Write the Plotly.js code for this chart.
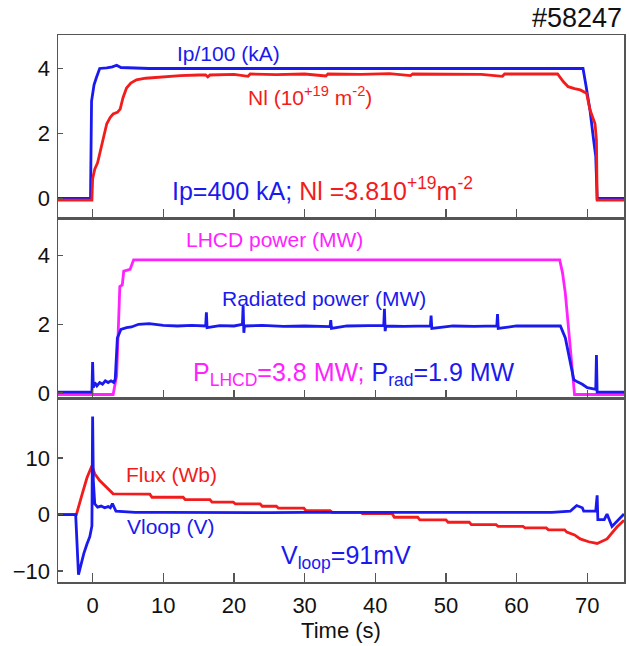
<!DOCTYPE html>
<html>
<head>
<meta charset="utf-8">
<script src="https://cdn.plot.ly/plotly-3.0.1.min.js"></script>
<style>html,body{margin:0;padding:0;background:#fff;}#chart{width:630px;height:646px;}</style>
</head>
<body>
<div id="chart"></div>
<script>
// ---- Panel 1: plasma current and density ----
const tIp = [-5, -0.3, -0.15, 0.0, 0.2, 0.5, 1.0, 2.0, 2.8, 3.4, 4.0, 8, 20, 40, 60, 68, 69.4, 69.8, 70.4, 70.9, 71.2, 71.4, 75.2];
const ip100 = [0, 0, 3.0, 3.3, 3.5, 3.7, 4.0, 4.02, 4.05, 4.1, 4.03, 4.0, 4.0, 4.0, 4.0, 4.0, 4.0, 3.5, 2.7, 1.8, 1.3, 0.0, 0.0];

const tNl = [-5, -0.1, 0.0, 0.3, 0.7, 1.1, 1.5, 2.0, 2.5, 2.9, 3.5, 3.9, 4.3, 4.8, 5.4, 6.2, 7.5, 9.1, 11, 12.4, 15, 16, 16.3, 16.6, 20, 22, 22.3, 26, 30, 33, 33.3, 38, 42, 45, 45.3, 50, 55, 58, 58.3, 62, 65.8, 66.6, 67.3, 68.2, 69.0, 69.9, 70.4, 71.1, 71.3, 71.4, 75.2];
const nl = [-0.05, -0.05, 0.6, 0.9, 1.1, 1.5, 1.9, 2.3, 2.5, 2.6, 2.65, 2.75, 3.1, 3.4, 3.55, 3.65, 3.7, 3.73, 3.76, 3.78, 3.8, 3.8, 3.74, 3.8, 3.82, 3.76, 3.83, 3.81, 3.83, 3.77, 3.83, 3.82, 3.84, 3.78, 3.83, 3.83, 3.82, 3.76, 3.83, 3.83, 3.83, 3.6, 3.44, 3.38, 3.34, 3.24, 2.72, 2.3, 1.8, -0.05, -0.05];

// ---- Panel 2: LHCD and radiated power ----
const tLh = [-5, 2.9, 3.4, 3.7, 3.85, 4.2, 4.4, 5.3, 5.8, 66.1, 66.5, 66.9, 67.3, 67.8, 68.2, 75.2];
const pLh = [-0.05, -0.05, 0.5, 2.5, 3.1, 3.15, 3.55, 3.6, 3.88, 3.88, 3.5, 2.9, 2.0, 0.8, -0.05, -0.05];

const tRad = [-5, -0.1, 0.0, 0.1, 0.3, 0.6, 1.0, 1.4, 1.8, 2.2, 2.6, 3.0, 3.2, 3.5, 4.0, 4.8, 5.5, 6.5, 8, 10, 12, 14, 16.0, 16.1, 16.2, 18, 20, 21.2, 21.3, 21.4, 21.5, 24, 27, 30, 33.6, 33.7, 33.8, 36, 39, 41.2, 41.3, 41.4, 41.5, 44, 47.8, 47.9, 48.0, 51, 54, 57.2, 57.3, 57.4, 60, 63, 66.2, 66.9, 67.5, 68.1, 68.6, 69.3, 70.0, 71.2, 71.3, 71.4, 75.2];
const pRad = [0.02, 0.02, 0.9, 0.15, 0.3, 0.2, 0.3, 0.25, 0.35, 0.3, 0.35, 0.3, 0.4, 1.6, 1.85, 1.9, 1.92, 2.0, 2.02, 1.97, 1.95, 1.97, 1.95, 2.35, 1.9, 1.96, 1.95, 2.0, 2.55, 1.75, 1.95, 1.97, 1.94, 1.95, 1.93, 2.12, 1.88, 1.95, 1.96, 1.97, 2.45, 1.8, 1.95, 1.94, 1.95, 2.25, 1.88, 1.95, 1.94, 1.95, 2.3, 1.88, 1.95, 1.94, 1.95, 1.6, 1.0, 0.38, 0.32, 0.25, 0.15, 0.1, 1.1, 0.02, 0.02];

// ---- Panel 3: flux and loop voltage ----
const tFlux = [-5, -2.3, -1.5, -0.8, -0.1, 0.3, 1.0, 1.8, 2.5, 2.9, 8.1, 8.4, 12.8, 13.1, 16.6, 16.9, 19.9, 20.2, 23.7, 24.0, 26.0, 26.3, 29.9, 30.2, 33.6, 33.9, 37.9, 38.2, 42.4, 42.7, 46.0, 46.3, 50.0, 50.3, 53.3, 53.6, 57.1, 57.4, 60.9, 61.2, 64.2, 64.5, 66.8, 67.1, 68.2, 69.0, 70.2, 71.4, 72.8, 74.2, 75.2];
const flux = [0, 0, 3.5, 6.5, 8.6, 7.2, 6.0, 5.0, 4.25, 3.66, 3.6, 3.06, 3.06, 2.65, 2.65, 2.18, 2.18, 1.9, 1.9, 1.47, 1.47, 1.12, 1.12, 0.7, 0.7, 0.4, 0.4, 0.15, 0.15, -0.47, -0.47, -0.94, -0.94, -1.36, -1.36, -1.77, -1.77, -2.1, -2.1, -2.36, -2.36, -2.7, -2.7, -3.1, -3.6, -4.3, -4.8, -5.1, -4.3, -2.2, -1.0];

const tV = [-5, -2.4, -2.0, -1.6, -1.25, -0.8, -0.4, -0.1, 0.0, 0.1, 0.3, 0.7, 1.2, 1.7, 2.2, 2.5, 2.8, 3.3, 6, 10, 15, 20, 25, 30, 35, 40, 45, 50, 55, 60, 65, 67.6, 68.5, 69.3, 69.5, 71.2, 71.4, 71.5, 72.4, 72.8, 73.5, 75.2];
const vloop = [0, 0, -10.6, -8.5, -6.9, -5.2, -3.9, -2.0, 17.3, 6.0, 1.9, 1.3, 1.5, 1.2, 1.4, 1.2, 1.95, 0.6, 0.4, 0.4, 0.35, 0.4, 0.35, 0.4, 0.4, 0.4, 0.35, 0.4, 0.4, 0.35, 0.4, 0.6, 1.6, 1.2, 0.6, 0.6, 3.4, -0.9, -0.9, 0.1, -2.1, 0.1];

const xTicks = [0, 10, 20, 30, 40, 50, 60, 70];
const y1Ticks = [0, 2, 4];
const y2Ticks = [0, 2, 4];
const y3Ticks = [-10, 0, 10];

const BLUE = '#1a1aee', RED = '#f21c1c', MAG = '#ff22ff';
const FONT = 'Liberation Sans, Arial, sans-serif';

function ln(x, y, color, xa, ya) {
  return {x: x, y: y, type: 'scatter', mode: 'lines', xaxis: xa, yaxis: ya,
          line: {color: color, width: 2.8}, hoverinfo: 'skip', showlegend: false};
}

const data = [
  ln(tIp, ip100, BLUE, 'x', 'y'),
  ln(tNl, nl, RED, 'x', 'y'),
  ln(tLh, pLh, MAG, 'x2', 'y2'),
  ln(tRad, pRad, BLUE, 'x2', 'y2'),
  ln(tFlux, flux, RED, 'x3', 'y3'),
  ln(tV, vloop, BLUE, 'x3', 'y3')
];

const axLine = {showline: true, linecolor: '#555', linewidth: 1.5, mirror: true,
                zeroline: false, showgrid: false, tickcolor: '#555', tickwidth: 1.5};
function xax(anchor, labels) {
  return Object.assign({}, axLine, {range: [-4.9, 75.2], anchor: anchor, tickvals: xTicks,
    ticks: 'inside', ticklen: 9, showticklabels: labels, ticklabelstandoff: 3,
    tickfont: {size: 22, color: '#111', family: FONT}});
}
function yax(range, tv, dom) {
  return Object.assign({}, axLine, {range: range, domain: dom, tickvals: tv,
    ticks: 'inside', ticklen: 5, ticklabelstandoff: 2,
    tickfont: {size: 22, color: '#111', family: FONT}});
}

const x3 = xax('y3', true);
x3.title = {text: 'Time (s)', font: {size: 22, color: '#111', family: FONT}, standoff: 2};

function ann(text, x, y, xr, yr, color, size) {
  return {text: text, x: x, y: y, xref: xr, yref: yr, showarrow: false,
          xanchor: 'center', yanchor: 'middle',
          font: {size: size, color: color, family: FONT}};
}

const layout = {
  width: 630, height: 646,
  margin: {l: 58, r: 6, t: 35, b: 64},
  paper_bgcolor: '#fff', plot_bgcolor: '#fff',
  showlegend: false,
  xaxis: Object.assign(xax('y', false), {matches: 'x3'}),
  xaxis2: Object.assign(xax('y2', false), {matches: 'x3'}),
  xaxis3: x3,
  yaxis: yax([-0.6, 5.03], y1Ticks, [0.6654, 1]),
  yaxis2: yax([-0.18, 5.1], y2Ticks, [0.3346, 0.6654]),
  yaxis3: yax([-11.9, 20.4], y3Ticks, [0, 0.3346]),
  annotations: [
    ann('#58247', 1, 1.031, 'paper', 'paper', '#111', 27),
    ann('Ip/100 (kA)', 19.2, 4.47, 'x', 'y', BLUE, 21),
    ann('Nl (10<sup>+19</sup> m<sup>-2</sup>)', 30.7, 3.15, 'x', 'y', RED, 21),
    ann('<span style="color:' + BLUE + '">Ip=400 kA;</span> Nl =3.810<sup>+19</sup>m<sup>-2</sup>', 32.5, 0.3, 'x', 'y', RED, 25),
    ann('LHCD power (MW)', 25.7, 4.47, 'x2', 'y2', MAG, 21),
    ann('Radiated power (MW)', 32.8, 2.74, 'x2', 'y2', BLUE, 21),
    ann('P<sub>LHCD</sub>=3.8 MW; <span style="color:' + BLUE + '">P<sub>rad</sub>=1.9 MW</span>', 37, 0.55, 'x2', 'y2', MAG, 25),
    ann('Flux (Wb)', 11.2, 7.1, 'x3', 'y3', RED, 21),
    ann('Vloop (V)', 11.1, -2.1, 'x3', 'y3', BLUE, 21),
    ann('V<sub>loop</sub>=91mV', 35.8, -7.4, 'x3', 'y3', BLUE, 25)
  ]
};
layout.annotations[0].xanchor = 'right';

Plotly.newPlot('chart', data, layout, {staticPlot: true, displayModeBar: false});
</script>
</body>
</html>
